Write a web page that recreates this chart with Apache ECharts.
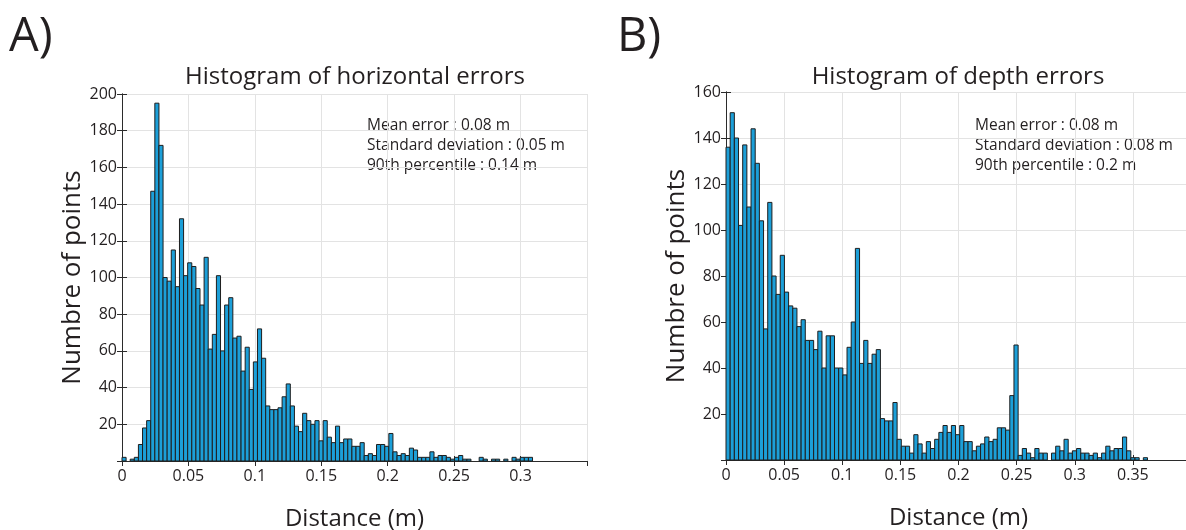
<!DOCTYPE html>
<html>
<head>
<meta charset="utf-8">
<script src="https://cdn.jsdelivr.net/npm/echarts@6/dist/echarts.min.js"></script>
<style>
html,body{margin:0;padding:0;background:#fff;}
#chart{width:1186px;height:530px;}
</style>
</head>
<body>
<div id="chart"></div>
<script>
// ---- Data ----
// Horizontal errors histogram: 100 bins starting at 0
var horizBinWidth = 0.00309;
var horizCounts = [2,0,1,2,9,18,22,147,195,172,
  100,98,115,95,132,101,108,106,94,85,
  111,61,69,101,60,85,89,67,68,49,
  62,39,54,72,56,30,28,28,29,35,
  42,30,19,16,26,22,20,22,11,22,
  13,10,19,10,12,12,8,8,10,3,
  4,3,9,9,8,15,5,3,4,3,
  7,6,2,2,2,5,2,3,3,2,
  1,2,3,1,1,0,0,2,1,0,
  1,1,0,1,0,2,1,2,2,2];
// Depth errors histogram: 101 bins starting at 0
var depthBinWidth = 0.00359;
var depthCounts = [136,151,140,102,137,110,144,129,104,57,
  112,80,72,89,73,67,66,58,61,52,
  52,48,56,40,54,54,40,40,37,49,
  60,92,42,52,42,46,48,18,17,17,
  25,9,6,6,3,11,7,3,8,5,
  9,12,15,12,15,11,15,8,8,4,
  6,7,10,8,9,14,14,13,28,50,
  2,5,3,1,5,3,3,0,3,6,
  4,9,3,4,5,3,3,2,3,1,
  3,6,4,5,5,10,4,1,1,0,1];

var horizXTicks = {min:0, max:0.35, interval:0.05};
var horizYTicks = {min:0, max:200, interval:20};
var depthXTicks = {min:0, max:0.4, interval:0.05};
var depthYTicks = {min:0, max:160, interval:20};

var panelLabels = ['A)', 'B)'];
var titles = ['Histogram of horizontal errors', 'Histogram of depth errors'];
var horizStats = ['Mean error : 0.08 m', 'Standard deviation : 0.05 m', '90th percentile : 0.14 m'];
var depthStats = ['Mean error : 0.08 m', 'Standard deviation : 0.08 m', '90th percentile : 0.2 m'];
var xName = 'Distance (m)';
var yName = 'Numbre of points';

// ---- Build ----
function toBins(counts, w){
  var out = [];
  for (var i=0;i<counts.length;i++){ out.push([i*w, (i+1)*w, counts[i]]); }
  return out;
}
var FONT = '"Open Sans", "Noto Sans", sans-serif';
var TXT = '#231f20';
var BAR = '#1c9fd8';
var FRAME = '#2b2b2b';
var GRIDC = '#e3e3e3';

var grids = [
  {left:122, top:94, width:465, height:367, outerBoundsMode:'none', containLabel:false},
  {left:726, top:92, width:465, height:368, outerBoundsMode:'none', containLabel:false}
];

function xAxes(gi, t){
  return [{
    gridIndex:gi, type:'value', position:'bottom', min:t.min, max:t.max, interval:t.interval,
    name:xName, nameLocation:'middle', nameGap:46,
    nameTextStyle:{fontFamily:FONT, fontSize:24, color:TXT},
    axisLine:{show:true, lineStyle:{color:FRAME, width:1}},
    axisTick:{show:true, inside:true, length:5, lineStyle:{color:FRAME}},
    axisLabel:{show:true, fontFamily:FONT, fontSize:16, color:TXT, margin:7, showMaxLabel:false,
      formatter:function(v){ return +v.toFixed(2) + ''; }},
    splitLine:{show:true, lineStyle:{color:GRIDC, width:1}}
  },{
    gridIndex:gi, type:'value', position:'top', min:t.min, max:t.max, interval:t.interval,
    axisLine:{show:true, lineStyle:{color:FRAME, width:1}},
    axisTick:{show:true, inside:true, length:5, lineStyle:{color:FRAME}},
    axisLabel:{show:false}, splitLine:{show:false}
  }];
}
function yAxes(gi, t){
  return [{
    gridIndex:gi, type:'value', position:'left', min:t.min, max:t.max, interval:t.interval,
    name:yName, nameLocation:'middle', nameGap:36, nameRotate:90,
    nameTextStyle:{fontFamily:FONT, fontSize:26, color:TXT},
    axisLine:{show:true, lineStyle:{color:FRAME, width:1}},
    axisTick:{show:true, inside:true, length:5, lineStyle:{color:FRAME}},
    axisLabel:{show:true, fontFamily:FONT, fontSize:16, color:TXT, margin:5, showMinLabel:false},
    splitLine:{show:true, lineStyle:{color:GRIDC, width:1}}
  },{
    gridIndex:gi, type:'value', position:'right', min:t.min, max:t.max, interval:t.interval,
    axisLine:{show:true, lineStyle:{color:FRAME, width:1}},
    axisTick:{show:true, inside:true, length:5, lineStyle:{color:FRAME}},
    axisLabel:{show:false}, splitLine:{show:false}
  }];
}

function renderBin(params, api){
  var c = api.value(2);
  if (!c) return null;
  var p0 = api.coord([api.value(0), 0]);
  var p1 = api.coord([api.value(1), c]);
  return {
    type:'rect',
    shape:{x:p0[0], y:p1[1], width:p1[0]-p0[0], height:p0[1]-p1[1]},
    style:{fill:BAR, stroke:'#1e1e1e', lineWidth:1}
  };
}

function statText(x, lines){
  return lines.map(function(s, i){
    return {type:'text', left:x, top:118+i*20, style:{text:s, font:'15.5px '+FONT, fill:TXT}};
  });
}

var option = {
  animation:false,
  backgroundColor:'#fff',
  grid:grids,
  xAxis: xAxes(0, horizXTicks).concat(xAxes(1, depthXTicks)),
  yAxis: yAxes(0, horizYTicks).concat(yAxes(1, depthYTicks)),
  series:[
    {type:'custom', xAxisIndex:0, yAxisIndex:0, renderItem:renderBin, encode:{x:[0,1], y:2}, data:toBins(horizCounts, horizBinWidth), z:3},
    {type:'custom', xAxisIndex:2, yAxisIndex:2, renderItem:renderBin, encode:{x:[0,1], y:2}, data:toBins(depthCounts, depthBinWidth), z:3}
  ],
  graphic:[
    {type:'text', left:9, top:14, style:{text:panelLabels[0], font:'47px '+FONT, fill:TXT}},
    {type:'text', left:617, top:14, style:{text:panelLabels[1], font:'47px '+FONT, fill:TXT}},
    {type:'text', x:355, y:65, style:{text:titles[0], font:'24px '+FONT, fill:TXT, textAlign:'center'}},
    {type:'text', x:958, y:65, style:{text:titles[1], font:'24px '+FONT, fill:TXT, textAlign:'center'}}
  ].concat(statText(367, horizStats)).concat(statText(975, depthStats))
};

var chart = echarts.init(document.getElementById('chart'), null, {renderer:'canvas'});
chart.setOption(option);
</script>
</body>
</html>
